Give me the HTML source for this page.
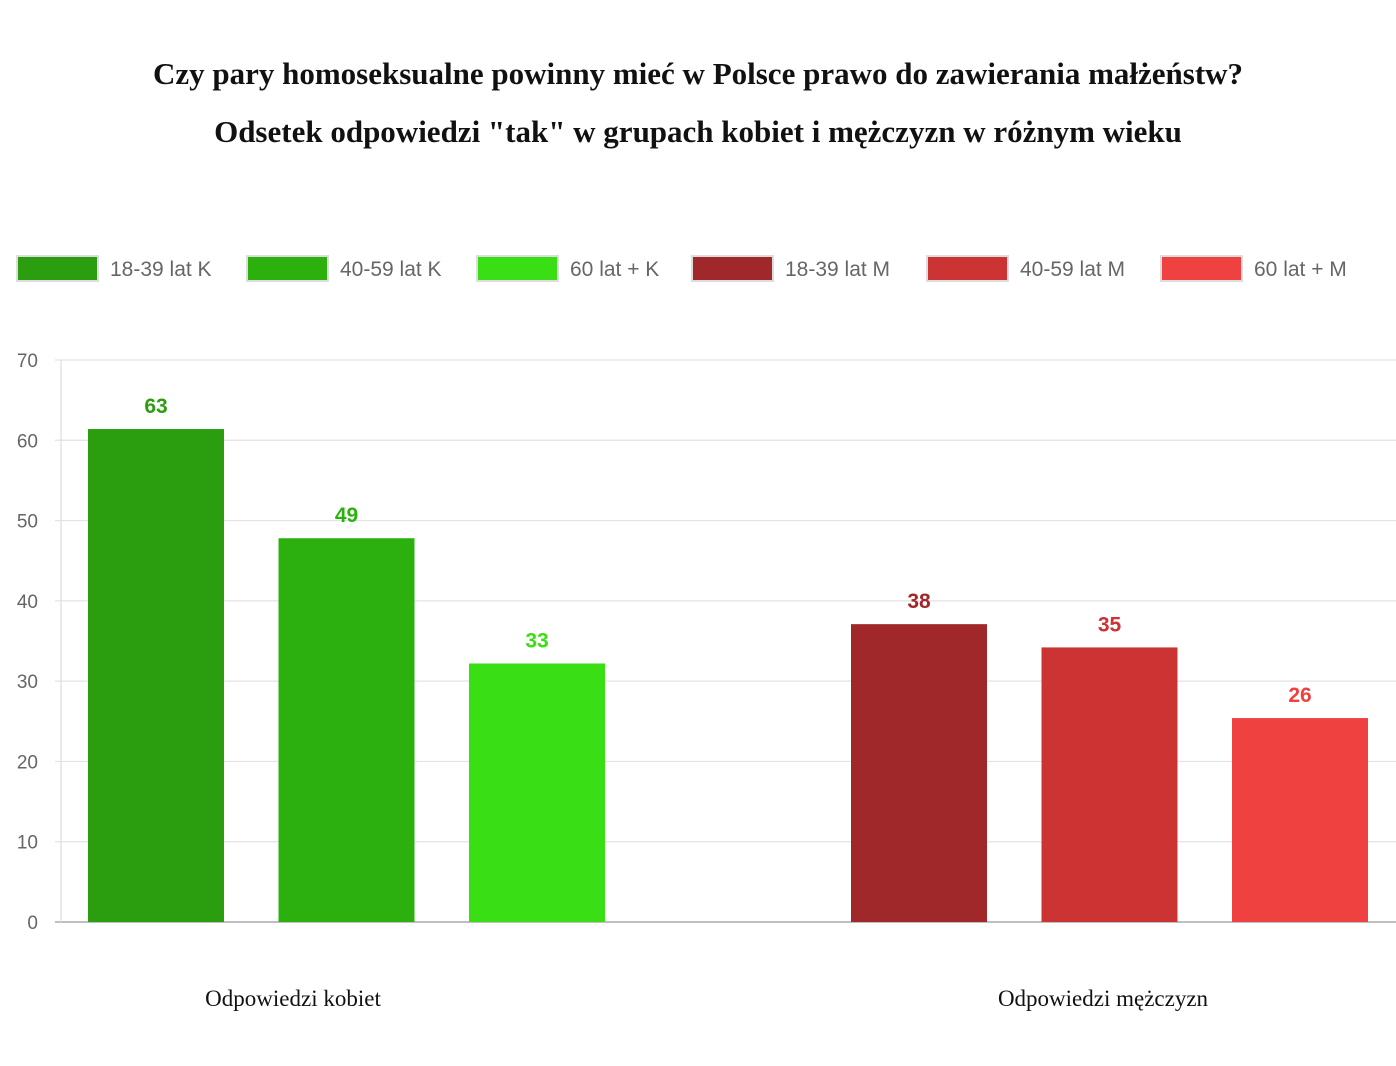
<!DOCTYPE html>
<html><head><meta charset="utf-8"><style>
body{margin:0;background:#fff;width:1396px;height:1066px;overflow:hidden}
svg{display:block}
</style></head><body>
<svg id="chart" width="1396" height="1066">
<text x="698" y="84" text-anchor="middle" font-family="Liberation Serif, serif" font-weight="bold" font-size="31" fill="#111">Czy pary homoseksualne powinny mieć w Polsce prawo do zawierania małżeństw?</text>
<text x="698" y="142" text-anchor="middle" font-family="Liberation Serif, serif" font-weight="bold" font-size="31" fill="#111">Odsetek odpowiedzi "tak" w grupach kobiet i mężczyzn w różnym wieku</text>
<g id="legend"></g>
<g id="grid"></g>
<g id="bars"></g>
</svg>
<script>
const categories = ["Odpowiedzi kobiet", "Odpowiedzi mężczyzn"];
const seriesNames = ["18-39 lat K","40-59 lat K","60 lat + K","18-39 lat M","40-59 lat M","60 lat + M"];
const seriesColors = ["#2b9e0f","#2bb00e","#3ade15","#a0282a","#cc3333","#f04141"];
const barValues = [61.4, 47.8, 32.2, 37.1, 34.2, 25.4];
const barLabels = ["63","49","33","38","35","26"];
const seriesCategory = [0,0,0,1,1,1];
const yTicks = [0,10,20,30,40,50,60,70];

const NS="http://www.w3.org/2000/svg";
const svg=document.getElementById('chart');
const X0=61, X1=1396, Y0=922, Y1=360, YMAX=70;
const y=v=>Y0-(v/YMAX)*(Y0-Y1);
function mk(t,a,p){const e=document.createElementNS(NS,t);for(const k in a)e.setAttribute(k,a[k]);p.appendChild(e);return e;}
const grid=document.getElementById('grid');
yTicks.forEach(t=>{
  const l=mk('line',{x1:X0-6,x2:X1,y1:y(t),y2:y(t),stroke:t===0?'#aaa':'#e3e3e3','stroke-width':t===0?1.5:1.2},grid);
  
  
  const tx=mk('text',{x:38,y:y(t)+7,'text-anchor':'end','font-family':'Liberation Sans, sans-serif','font-size':19,fill:'#666'},grid);
  tx.textContent=t;
  
  
});
const ax=mk('line',{x1:X0,x2:X0,y1:Y1,y2:Y0,stroke:'#ddd','stroke-width':1.2},grid);


const catW=(X1-X0)/categories.length;
const bars=document.getElementById('bars');
categories.forEach((c,ci)=>{
  const tx=mk('text',{x:X0+catW*(ci+0.5)-40*(ci===0?1:0)+(ci===1?40:0)-X0*0.5+30,y:1006,'text-anchor':'middle','font-family':'Liberation Serif, serif','font-size':23,fill:'#111'},bars);
  tx.setAttribute('x', ci===0?293:1103);
  tx.textContent=c;
  
  
});
const barW=136, step=190.5;
barValues.forEach((v,i)=>{
  const ci=seriesCategory[i];
  const idx=i-ci*3;
  const start=ci===0?88:851;
  const x=start+idx*step;
  const r=mk('rect',{x:x,y:y(v),width:barW,height:Y0-y(v),fill:seriesColors[i]},bars);
  
  
  const t=mk('text',{x:x+barW/2,y:y(v)-16,'text-anchor':'middle','font-family':'Liberation Sans, sans-serif','font-weight':'bold','font-size':21,fill:seriesColors[i]},bars);
  t.textContent=barLabels[i];
  
  
});
const leg=document.getElementById('legend');
const legX=[16,246,476,691,926,1160];
seriesNames.forEach((n,i)=>{
  const g=mk('g',{},leg);
  
  
  mk('rect',{x:legX[i]+1,y:256,width:81,height:25,fill:seriesColors[i],stroke:'#ddd','stroke-width':2},g);
  const t=mk('text',{x:legX[i]+94,y:276,'font-family':'Liberation Sans, sans-serif','font-size':21,fill:'#666'},g);
  t.textContent=n;
});
</script>
</body></html>
